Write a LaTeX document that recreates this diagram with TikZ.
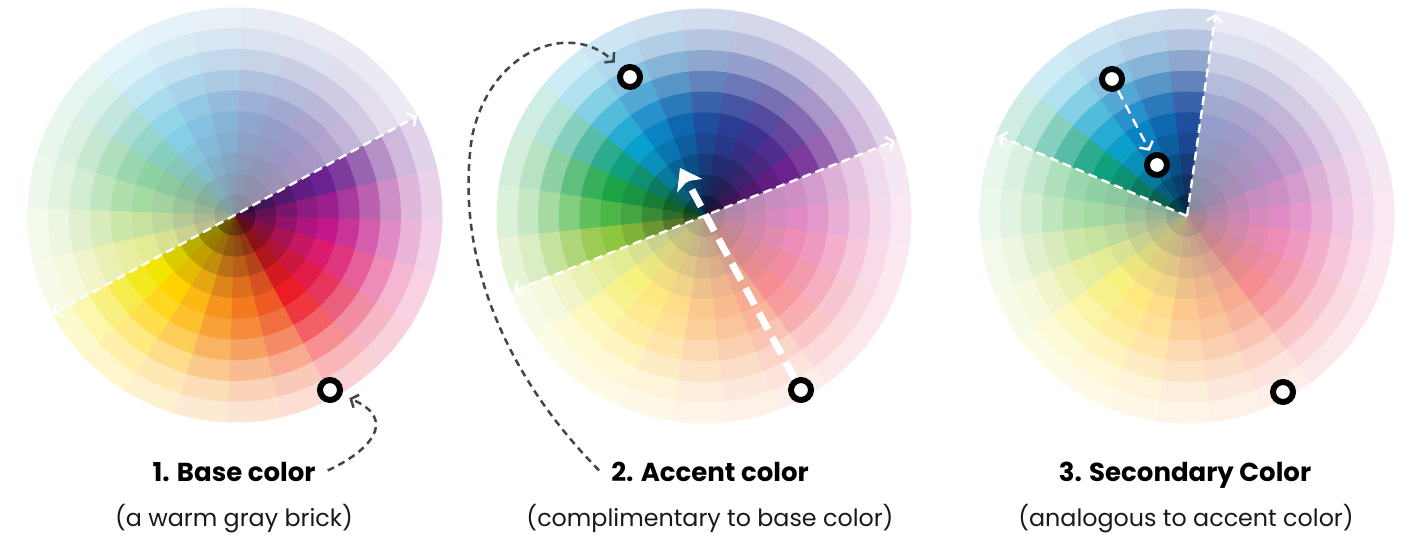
\documentclass[tikz,border=0pt]{standalone}
\usepackage{fontspec}
\setmainfont{Poppins}
\usetikzlibrary{arrows.meta,calc}
\definecolor{h0}{HTML}{C2188B}
\definecolor{h1}{HTML}{9C1F8E}
\definecolor{h2}{HTML}{6B2190}
\definecolor{h3}{HTML}{512D8F}
\definecolor{h4}{HTML}{3B3391}
\definecolor{h5}{HTML}{2C3D96}
\definecolor{h6}{HTML}{1F4E9F}
\definecolor{h7}{HTML}{0F67B0}
\definecolor{h8}{HTML}{0A82C4}
\definecolor{h9}{HTML}{0AA0CC}
\definecolor{h10}{HTML}{10A080}
\definecolor{h11}{HTML}{1DA447}
\definecolor{h12}{HTML}{4CB748}
\definecolor{h13}{HTML}{8DC63F}
\definecolor{h14}{HTML}{C8D92A}
\definecolor{h15}{HTML}{F2E500}
\definecolor{h16}{HTML}{FFD200}
\definecolor{h17}{HTML}{FDB913}
\definecolor{h18}{HTML}{F7941D}
\definecolor{h19}{HTML}{F47A20}
\definecolor{h20}{HTML}{EF5A24}
\definecolor{h21}{HTML}{EC1C24}
\definecolor{h22}{HTML}{E31B47}
\definecolor{h23}{HTML}{DC1A6E}
\definecolor{slate}{HTML}{3B4854}
\newcommand\colorwheel[1]{%
  \foreach \k/\b/\p in {10/white/20,9/white/32,8/white/50,7/white/70,6/white/88,5/black/100,4/black/90,3/black/76,2/black/60,1/black/42}{%
    \foreach \i in {0,...,23}{%
      \pgfmathsetmacro\aa{15*\i+#1-7.9}%
      \pgfmathsetmacro\ab{15*\i+#1+7.9}%
      \pgfmathsetmacro\rr{\k*20.75}%
      \fill[h\i!\p!\b] (0,0) -- (\aa:\rr) arc[start angle=\aa,end angle=\ab,radius=\rr] -- cycle;
    }%
  }%
}
\newcommand\fadeover[2]{\fill[white,fill opacity=0.5] (0,0) -- (#1:208) arc[start angle=#1,end angle=#2,radius=208] -- cycle;}
\begin{document}
\begin{tikzpicture}[x=1pt,y=1pt,
  marker/.style={circle,draw=black,fill=white,line width=6pt,minimum size=20pt,inner sep=0pt},
  wline/.style={draw=white,line width=2.4pt,dash pattern=on 9pt off 5pt},
  darc/.style={draw=slate,line width=2.5pt,dash pattern=on 7pt off 5pt,-{Straight Barb[length=6pt,width=14pt]},shorten >=8pt},
  bigarrow/.style={draw=white,line width=7pt,dash pattern=on 19pt off 9pt,-{Stealth[length=20pt,width=28pt,inset=5pt]}},
  btxt/.style={inner sep=0pt,anchor=base,font=\fontsize{26pt}{30pt}\selectfont\bfseries,text=black},
  rtxt/.style={inner sep=0pt,anchor=base,font=\fontsize{23.8pt}{28pt}\selectfont,text=black!90}]
\useasboundingbox (0,0) rectangle (1409,540);
% wheel 1
\begin{scope}[shift={(235,325)}]
  \colorwheel{-9}
  \fadeover{28.5}{208.5}
\end{scope}
% wheel 2
\begin{scope}[shift={(704,324)}]
  \colorwheel{-1}
  \fadeover{201.5}{381.5}
\end{scope}
% wheel 3
\begin{scope}[shift={(1187,324)}]
  \colorwheel{-0.5}
  \fadeover{157}{442}
\end{scope}
% reference points
\coordinate (w1c) at (235,325);
\coordinate (w1a) at ($(w1c)+(208.5:207)$);
\coordinate (w1b) at ($(w1c)+(28.5:207)$);
\coordinate (w2c) at (704,324);
\coordinate (w2a) at ($(w2c)+(201.5:205)$);
\coordinate (w2b) at ($(w2c)+(21.5:205)$);
\coordinate (w3c) at (1187,324);
\coordinate (w3a) at ($(w3c)+(82:204)$);
\coordinate (w3b) at ($(w3c)+(157:205)$);
\coordinate (t2tip) at (680,372);
% white dashed lines
\draw[wline,{Straight Barb[length=6pt,width=15pt]}-{Straight Barb[length=6pt,width=15pt]}] (w1a) -- (w1b);
\draw[wline,{Straight Barb[length=6pt,width=15pt]}-{Straight Barb[length=6pt,width=15pt]}] (w2a) -- (w2b);
\draw[wline,-{Straight Barb[length=6pt,width=15pt]}] (w3c) -- (w3a);
\draw[wline,-{Straight Barb[length=6pt,width=15pt]}] (w3c) -- (w3b);
% markers
\node[marker] (m1) at (330,150) {};
\node[marker] (m2a) at (630,463) {};
\node[marker] (m2b) at (801,150) {};
\node[marker] (m3a) at (1112,461) {};
\node[marker] (m3b) at (1157,375) {};
\node[marker] (m3c) at (1283,148) {};
\draw[bigarrow] (m2b) -- (t2tip);
\draw[wline,dash pattern=on 10pt off 6pt,-{Straight Barb[length=6pt,width=15pt]},shorten >=3pt] (m3a) -- (m3b);
% texts
\node[btxt] (t1) at (234,58) {1. Base color};
\node[rtxt] (s1) at (234,13) {(a warm gray brick)};
\node[btxt] (t2) at (710,58) {2. Accent color};
\node[rtxt] (s2) at (710,13) {(complimentary to base color)};
\node[btxt] (t3) at (1185,58) {3. Secondary Color};
\node[rtxt] (s3) at (1186,13) {(analogous to accent color)};
% dark curved arrows
\draw[darc] ([xshift=12pt,yshift=2pt]t1.east) .. controls (368,88) and (400,120) .. (m1);
\draw[darc] ([xshift=-12pt,yshift=2pt]t2.west) .. controls (500,170) and (455,290) .. (472,403) .. controls (490,490) and (570,520) .. (m2a);
\end{tikzpicture}
\end{document}
